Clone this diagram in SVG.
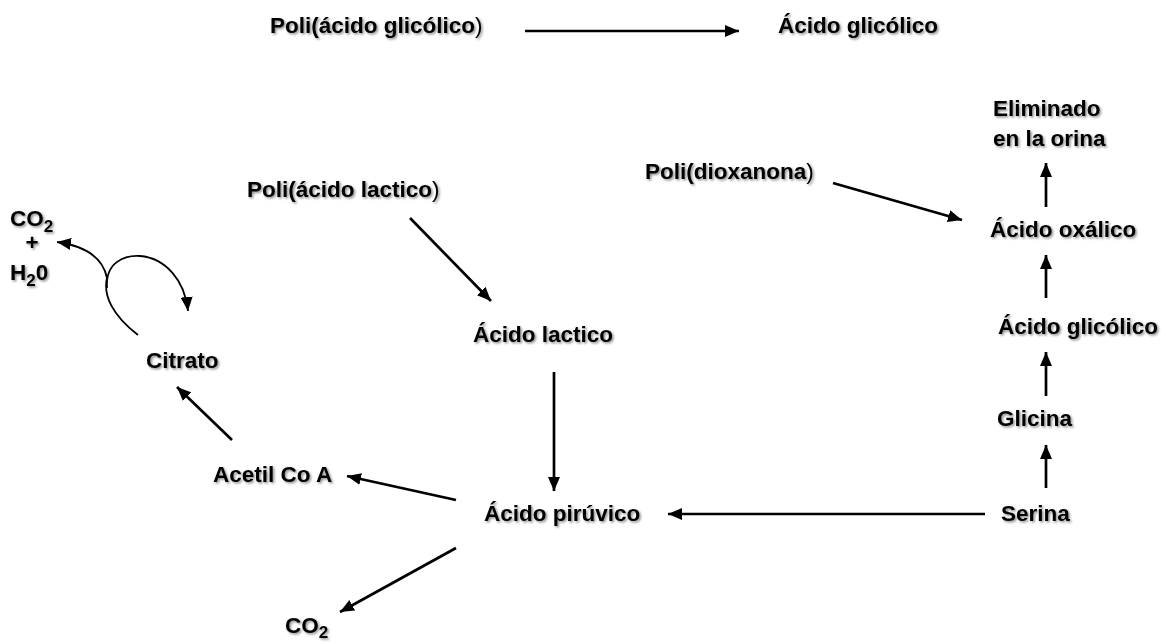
<svg xmlns="http://www.w3.org/2000/svg" width="1161" height="644" viewBox="0 0 1161 644">
<defs>
<filter id="sh" x="-10%" y="-30%" width="120%" height="160%">
<feDropShadow dx="1.5" dy="1.5" stdDeviation="1" flood-color="#000" flood-opacity="0.45"/>
</filter>
<marker id="ah" viewBox="0 0 14 12" refX="14" refY="6" markerUnits="userSpaceOnUse" markerWidth="14" markerHeight="12" orient="auto">
<path d="M0,0 L14,6 L0,12 z" fill="#000"/>
</marker>
</defs>
<style>
text{font-family:"Liberation Sans",Arial,sans-serif;font-size:22.5px;font-weight:bold;fill:#000;filter:url(#sh)}
.n{font-weight:normal}
.s{font-size:17px}
.c line,.c path{stroke:#000;stroke-width:2.7;fill:none;marker-end:url(#ah)}
.c path{stroke-width:1.8}
</style>
<g id="n-pga"><text x="270" y="33">Poli(ácido glicólico<tspan class="n">)</tspan></text></g>
<g id="n-ag-top"><text x="778" y="33">Ácido glicólico</text></g>
<g id="n-elim"><text x="993" y="116">Eliminado</text><text x="993" y="146">en la orina</text></g>
<g id="n-oxal"><text x="990" y="237">Ácido oxálico</text></g>
<g id="n-ag"><text x="998" y="334">Ácido glicólico</text></g>
<g id="n-glicina"><text x="997" y="426">Glicina</text></g>
<g id="n-serina"><text x="1001" y="521">Serina</text></g>
<g id="n-piruv"><text x="484" y="521">Ácido pirúvico</text></g>
<g id="n-pdo"><text x="645" y="179">Poli(dioxanona<tspan class="n">)</tspan></text></g>
<g id="n-pla"><text x="247" y="197">Poli(ácido lactico<tspan class="n">)</tspan></text></g>
<g id="n-lact"><text x="473" y="342">Ácido lactico</text></g>
<g id="n-acetil"><text x="213" y="482">Acetil Co A</text></g>
<g id="n-co2b"><text x="285" y="633">CO<tspan dy="5" class="s">2</tspan></text></g>
<g id="n-citrato"><text x="146" y="368">Citrato</text></g>
<g id="n-co2h2o"><text x="10" y="226">CO<tspan dy="6" class="s">2</tspan></text><text x="32" y="250" text-anchor="middle">+</text><text x="10" y="280">H<tspan dy="6" class="s">2</tspan><tspan dy="-6">0</tspan></text></g>
<g id="connectors" class="c">
<line x1="525" y1="31" x2="739" y2="31"/>
<line x1="1046" y1="207" x2="1046" y2="163"/>
<line x1="1046" y1="298" x2="1046" y2="255"/>
<line x1="1046" y1="396" x2="1046" y2="352"/>
<line x1="1046" y1="488" x2="1046" y2="445"/>
<line x1="985" y1="514" x2="668" y2="514"/>
<line x1="833" y1="183" x2="962" y2="220"/>
<line x1="410" y1="218" x2="491" y2="301"/>
<line x1="554" y1="372" x2="554" y2="491"/>
<line x1="456" y1="500" x2="347" y2="476"/>
<line x1="456" y1="548" x2="340" y2="612"/>
<line x1="232" y1="440" x2="177" y2="387"/>
<path d="M138,335 C112,315 103,295 107,278 C103,258 85,246 57,242"/>
<path d="M107,288 C105,262 125,255 140,256 C165,258 185,280 188,311"/>
</g>
</svg>
